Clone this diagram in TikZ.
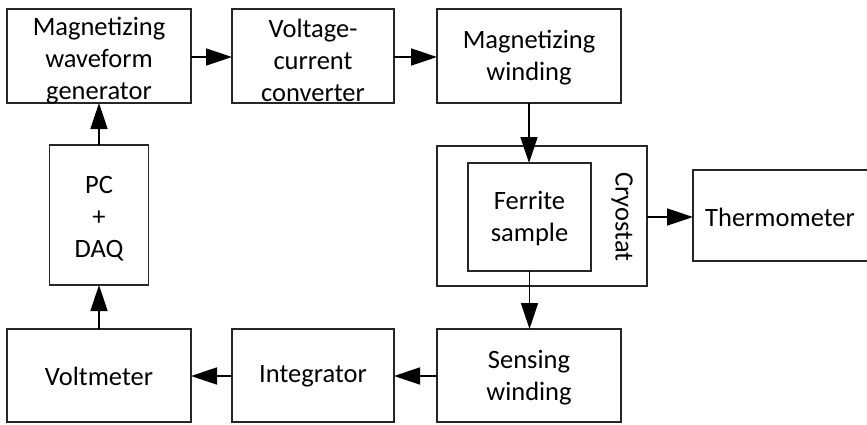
\documentclass[tikz,border=0pt]{standalone}
\usepackage{fontspec}
\setmainfont{Carlito}
\usetikzlibrary{arrows.meta}
\begin{document}
\begin{tikzpicture}[x=1pt,y=-1pt,
  blk/.style={draw=black!85, line width=1.6pt, fill=white, inner sep=0pt, outer sep=0pt},
  arr/.style={draw=black, line width=1.6pt, -{Triangle[length=26pt,width=17pt]}},
  lbl/.style={font=\fontsize{26.5}{32}\selectfont, inner sep=0pt, align=center}]
\useasboundingbox (0,0) rectangle (867,424);
% boxes
\node[blk, minimum width=184pt, minimum height=94pt] (gen) at (99,56) {};
\node[blk, minimum width=162pt, minimum height=94pt] (vcc) at (313,56) {};
\node[blk, minimum width=184pt, minimum height=94pt] (mw) at (529,56) {};
\node[blk, minimum width=99pt, minimum height=140pt] (pc) at (99,215) {};
\node[blk, minimum width=210pt, minimum height=140pt] (cryo) at (542,216) {};
\node[blk, minimum width=123pt, minimum height=108pt] (fer) at (529.5,217) {};
\node[blk, minimum width=176pt, minimum height=91pt] (thermo) at (781,215.5) {};
\node[blk, minimum width=184pt, minimum height=93pt] (volt) at (99,375.5) {};
\node[blk, minimum width=162pt, minimum height=93pt] (integ) at (313,375.5) {};
\node[blk, minimum width=184pt, minimum height=93pt] (sw) at (529,375.5) {};
% texts
\node[lbl] (gent) at (99,60.5) {Magnetizing\\waveform\\generator};
\node[lbl] (vcct) at (313,60.5) {Voltage-\\current\\converter};
\node[lbl] (mwt) at (529,58) {Magnetizing\\winding};
\node[lbl] (pct) at (99,219) {PC\\+\\DAQ};
\node[lbl] (fert) at (529.5,218.5) {Ferrite\\sample};
\node[lbl, rotate=-90] (cryot) at (622,217) {Cryostat};
\node[lbl] (thermot) at (780,217) {Thermometer};
\node[lbl] (voltt) at (99,376) {Voltmeter};
\node[lbl] (integt) at (313,376) {Integrator};
\node[lbl] (swt) at (529,377.5) {Sensing\\winding};
% connectors
\draw[arr] (gen.east |- 0,57) -- (vcc.west |- 0,57);
\draw[arr] (vcc.east |- 0,57) -- (mw.west |- 0,57);
\draw[arr] (mw.south) -- (mw.south |- fer.north);
\draw[arr] (fer.south) -- (fer.south |- sw.north);
\draw[arr] (cryo.east |- 0,217) -- (thermo.west |- 0,217);
\draw[arr] (sw.west |- 0,376) -- (integ.east |- 0,376);
\draw[arr] (integ.west |- 0,376) -- (volt.east |- 0,376);
\draw[arr] (volt.north) -- (pc.south);
\draw[arr] (pc.north) -- (gen.south);
\end{tikzpicture}
\end{document}
